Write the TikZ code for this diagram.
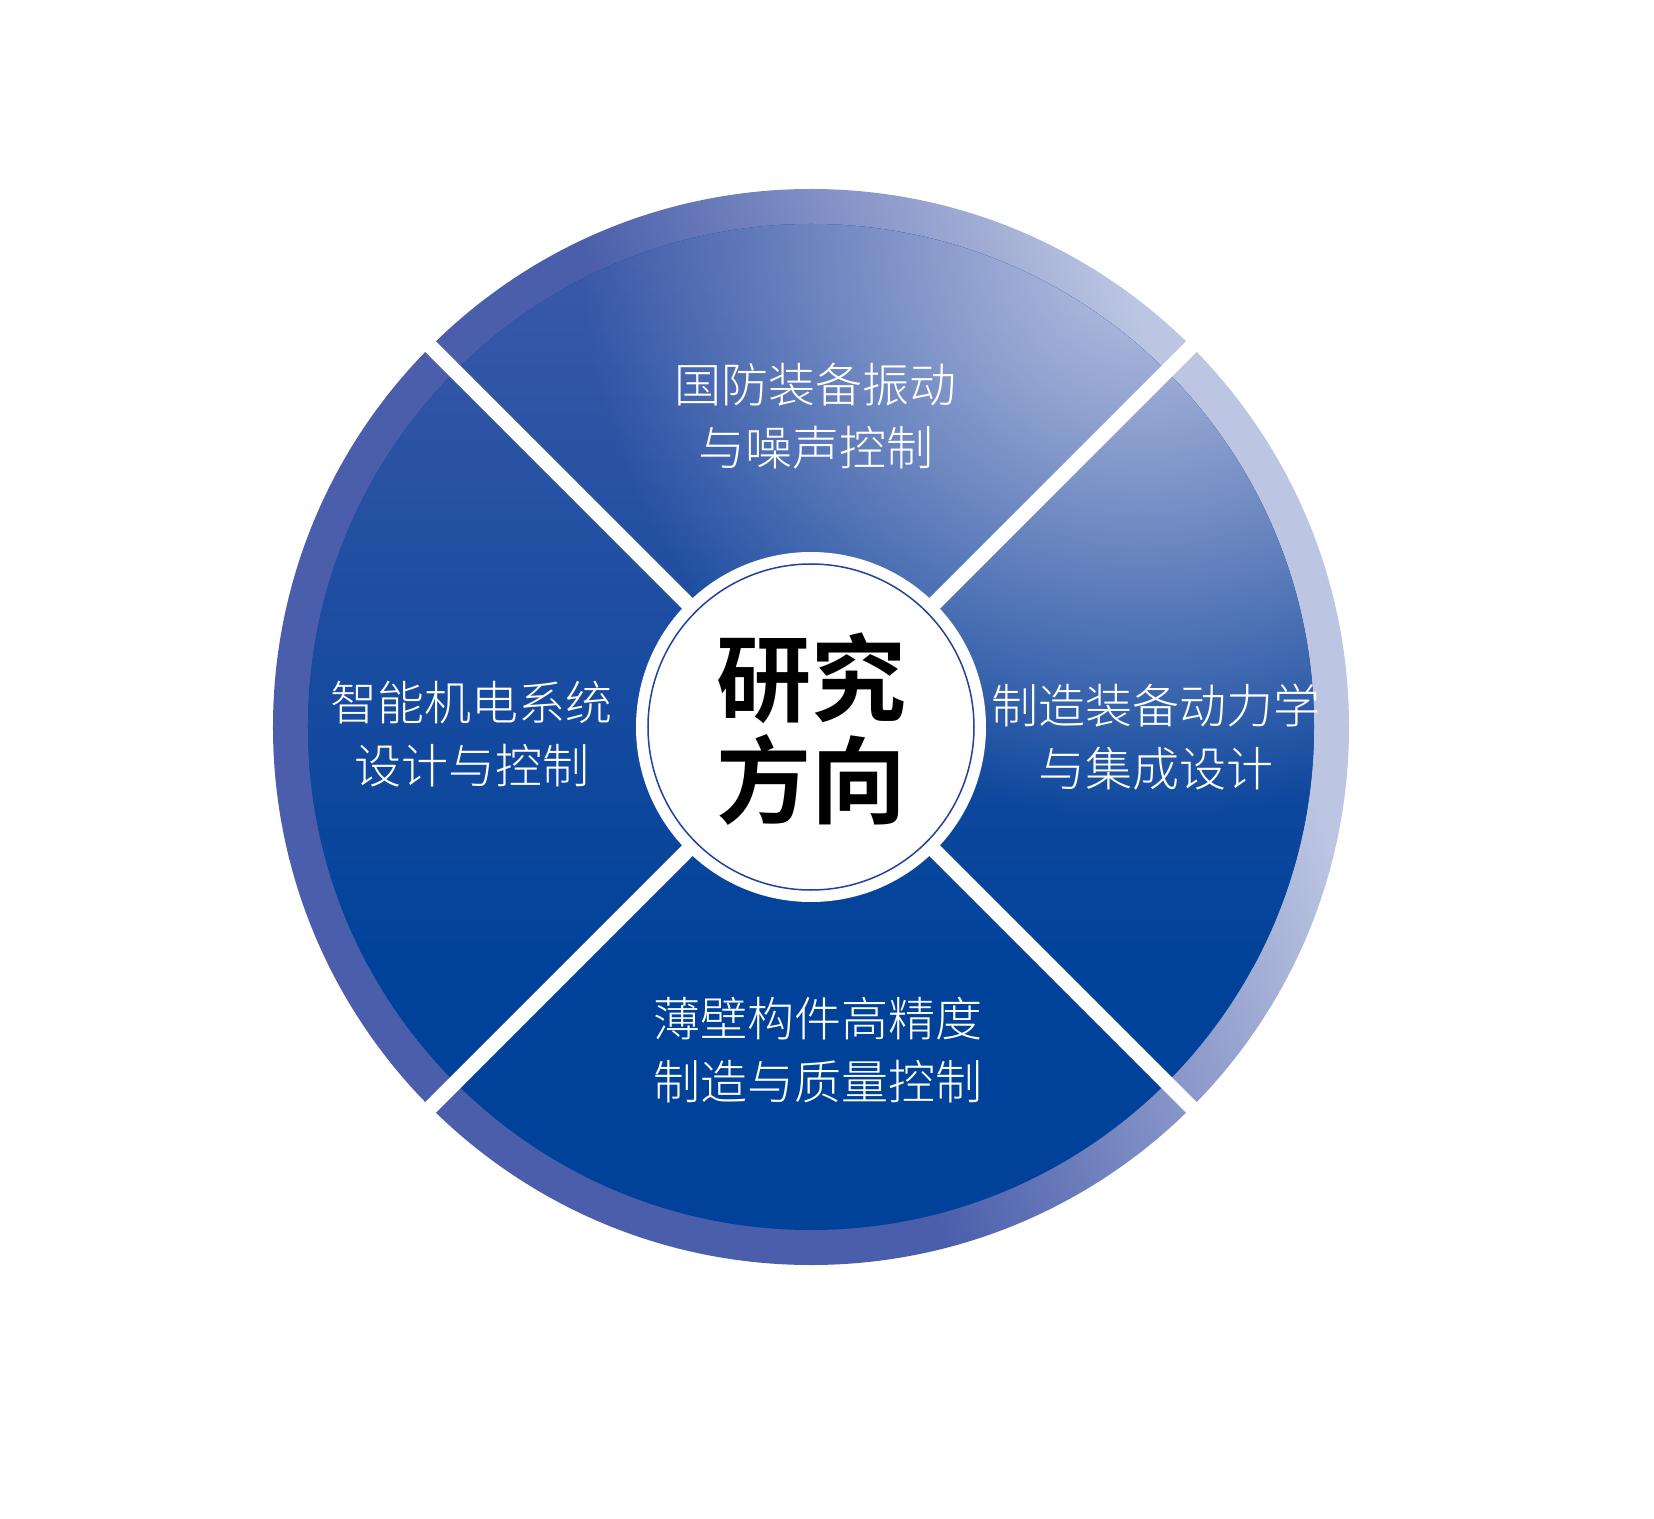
\documentclass[tikz,border=0pt]{standalone}
\usepackage{fontspec}
\newfontfamily\cjk{Noto Sans CJK SC}[UprightFont=* Light, BoldFont=* Bold]
\usetikzlibrary{fadings}
\definecolor{ringdark}{HTML}{4A5EAB}
\definecolor{ringlight}{HTML}{BCC5E2}
\definecolor{disctop}{HTML}{3D5AA8}
\definecolor{discbot}{HTML}{00429A}
\definecolor{glowc}{HTML}{B8C2E2}
\definecolor{hubline}{HTML}{23409A}
\pgfdeclarehorizontalshading{ringshade}{100bp}{color(0bp)=(ringdark); color(48.4bp)=(ringdark); color(64bp)=(ringlight); color(100bp)=(ringlight)}
\tikzfading[name=glowfade, inner color=transparent!0, outer color=transparent!100]
\begin{document}
\begin{tikzpicture}[x=1pt, y=1pt,
    areatext/.style={text=white, align=center, font=\cjk\fontsize{47}{63}\selectfont},
    gap/.style={white, line width=15}]
  \useasboundingbox (-811,-791) rectangle (843,727);
  \scoped{
    \clip (0,0) circle (538);
    \shade[shading=ringshade, transform canvas={rotate=20}] (-800,-800) rectangle (800,800);
  };
  \fill[discbot] (0,0) circle (503);
  \scoped{
    \clip (0,0) circle (503);
    \shade[top color=disctop, bottom color=discbot] (-503,-240) rectangle (503,503);
    \fill[glowc, path fading=glowfade] (330,470) circle (560);
  };
  \draw[gap] (45:600) -- (225:600);
  \draw[gap] (135:600) -- (315:600);
  \node (hub) [circle, fill=white, minimum size=350, inner sep=0] at (0,0) {};
  \draw[hubline, line width=1.5] (hub.center) circle (163);
  \node (core) [font=\cjk\bfseries\fontsize{95}{102}\selectfont, align=center] at (1,-2) {研究\\方向};
  \node (defence) [areatext] at (5,311) {国防装备振动\\与噪声控制};
  \node (mechatronic) [areatext] at (-339,-7) {智能机电系统\\设计与控制};
  \node (dynamics) [areatext] at (345,-10) {制造装备动力学\\与集成设计};
  \node (thinwall) [areatext] at (7,-323) {薄壁构件高精度\\制造与质量控制};
\end{tikzpicture}
\end{document}
